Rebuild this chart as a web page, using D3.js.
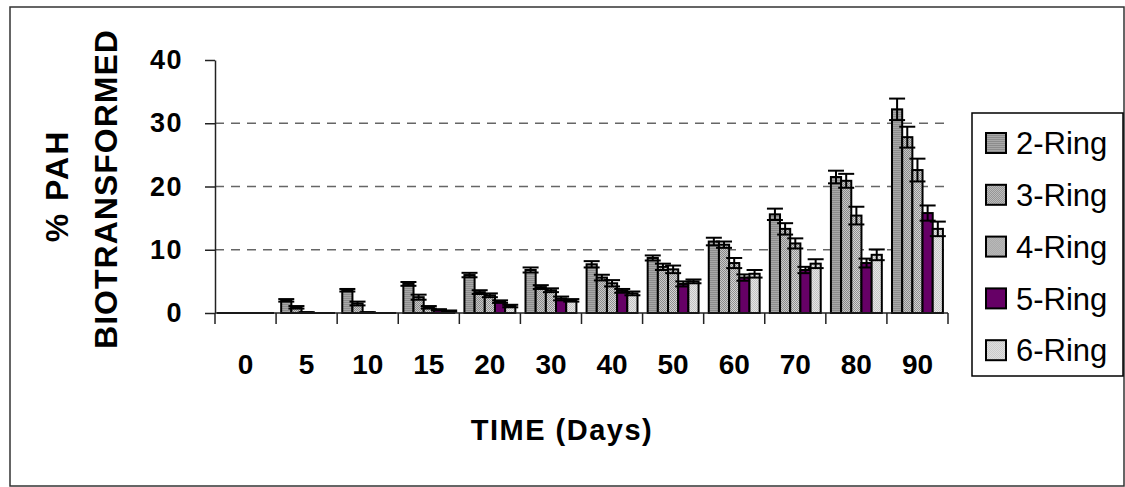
<!DOCTYPE html>
<html>
<head>
<meta charset="utf-8">
<script src="https://cdn.jsdelivr.net/npm/d3@7"></script>
<style>
  body { margin: 0; background: #fff; }
  text { font-family: "Liberation Sans", Arial, sans-serif; }
</style>
</head>
<body>
<svg id="chart"></svg>
<script>
const days = ['0', '5', '10', '15', '20', '30', '40', '50', '60', '70', '80', '90'];
const rings = ['2-Ring', '3-Ring', '4-Ring', '5-Ring', '6-Ring'];

// % PAH biotransformed, per ring class
const ring2 = [0, 2.0, 3.6, 4.6, 6.0, 6.8, 7.7, 8.7, 11.3, 15.6, 21.5, 32.2];
const ring3 = [0, 0.9, 1.5, 2.5, 3.3, 4.1, 5.6, 7.3, 10.8, 13.3, 20.9, 27.8];
const ring4 = [0, 0.1, 0.1, 0.9, 2.8, 3.6, 4.7, 6.9, 7.9, 11.0, 15.4, 22.6];
const ring5 = [0, 0, 0, 0.5, 1.8, 2.3, 3.5, 4.6, 5.6, 6.8, 7.9, 15.8];
const ring6 = [0, 0, 0, 0.3, 1.1, 2.0, 3.1, 5.0, 6.2, 7.8, 9.2, 13.3];

// error bar half-widths
const err2 = [0, 0.2, 0.2, 0.3, 0.35, 0.4, 0.5, 0.4, 0.6, 0.9, 1.0, 1.7];
const err3 = [0, 0.2, 0.3, 0.4, 0.3, 0.3, 0.45, 0.5, 0.5, 0.9, 1.1, 1.65];
const err4 = [0, 0, 0, 0.2, 0.3, 0.3, 0.5, 0.6, 0.8, 0.8, 1.4, 1.8];
const err5 = [0, 0, 0, 0.1, 0.2, 0.3, 0.3, 0.4, 0.5, 0.5, 0.7, 1.2];
const err6 = [0, 0, 0, 0.1, 0.2, 0.2, 0.3, 0.3, 0.6, 0.7, 0.85, 1.15];

const yTicks = [0, 10, 20, 30, 40];
const gridTicks = [10, 20, 30];

const values = [ring2, ring3, ring4, ring5, ring6];
const errors = [err2, err3, err4, err5, err6];

const width = 1125;
const height = 487;

const svg = d3.select('#chart')
  .attr('width', width)
  .attr('height', height);

// fill patterns, roughly like the old Excel textures
const defs = svg.append('defs');

const p2 = defs.append('pattern').attr('id', 'p0')
  .attr('patternUnits', 'userSpaceOnUse').attr('width', 2).attr('height', 2);
p2.append('rect').attr('width', 2).attr('height', 2).attr('fill', '#a8a8a8');
p2.append('rect').attr('width', 2).attr('height', 1).attr('fill', '#8c8c8c');

function checker(id, a, b) {
  const p = defs.append('pattern').attr('id', id)
    .attr('patternUnits', 'userSpaceOnUse').attr('width', 2).attr('height', 2);
  p.append('rect').attr('width', 2).attr('height', 2).attr('fill', a);
  p.append('rect').attr('width', 1).attr('height', 1).attr('fill', b);
  p.append('rect').attr('x', 1).attr('y', 1).attr('width', 1).attr('height', 1).attr('fill', b);
}
checker('p1', '#c8c8c8', '#8a8a8a');
checker('p2', '#d4d4d4', '#8f8f8f');
checker('p4', '#e6e6e6', '#c4c4c4');

const fills = ['url(#p0)', 'url(#p1)', 'url(#p2)', '#660066', 'url(#p4)'];

// outer frame
svg.append('rect')
  .attr('x', 10).attr('y', 7)
  .attr('width', 1114).attr('height', 479)
  .attr('fill', 'none')
  .attr('stroke', '#333')
  .attr('stroke-width', 1.5);

const x = d3.scaleBand()
  .domain(days)
  .range([215, 948]);
const xInner = d3.scaleBand()
  .domain(rings)
  .range([x.bandwidth() / 12, x.bandwidth() * 11 / 12]);
const y = d3.scaleLinear()
  .domain([0, 40])
  .range([313, 60]);

const g = svg.append('g');

// dashed gridlines
g.selectAll('.grid')
  .data(gridTicks)
  .enter().append('line')
    .attr('x1', 215).attr('x2', 948)
    .attr('y1', d => y(d)).attr('y2', d => y(d))
    .attr('stroke', '#666')
    .attr('stroke-width', 1.5)
    .attr('stroke-dasharray', '9,7');

// Y axis
const yAxis = d3.axisLeft(y)
  .tickValues(yTicks)
  .tickSize(10)
  .tickPadding(22)
  .tickSizeOuter(0);

g.append('g')
  .attr('transform', 'translate(215,0)')
  .call(yAxis)
  .call(a => a.selectAll('line, path').attr('stroke', '#222').attr('stroke-width', 1.5))
  .call(a => a.selectAll('text')
    .attr('font-size', 27).attr('font-weight', 'bold').attr('fill', '#000')
    .attr('letter-spacing', 1.5)
    .style('font-family', '"Liberation Sans", Arial, sans-serif'));

// X axis labels
const xAxis = d3.axisBottom(x)
  .tickSize(0)
  .tickPadding(41)
  .tickSizeOuter(0);

g.append('g')
  .attr('transform', 'translate(0,313)')
  .call(xAxis)
  .call(a => a.select('.domain').remove())
  .call(a => a.selectAll('text')
    .attr('font-size', 28).attr('font-weight', 'bold').attr('fill', '#000')
    .style('font-family', '"Liberation Sans", Arial, sans-serif'));

// bars
const series = g.selectAll('.series')
  .data(rings)
  .enter().append('g')
    .attr('class', 'series');

series.selectAll('rect')
  .data((r, i) => days.map((d, j) => ({ day: d, ring: r, ri: i, v: values[i][j], e: errors[i][j] })))
  .enter().append('rect')
    .attr('x', d => x(d.day) + xInner(d.ring))
    .attr('y', d => y(d.v))
    .attr('width', xInner.bandwidth())
    .attr('height', d => y(0) - y(d.v))
    .attr('fill', d => fills[d.ri])
    .attr('stroke', '#000')
    .attr('stroke-width', 2);

// error bars
const eb = series.selectAll('.err')
  .data((r, i) => days.map((d, j) => ({ day: d, ring: r, v: values[i][j], e: errors[i][j] })))
  .enter().append('g')
    .attr('class', 'err')
    .attr('transform', d => `translate(${x(d.day) + xInner(d.ring) + xInner.bandwidth() / 2},0)`);

eb.append('line')
  .attr('y1', d => y(d.v + d.e)).attr('y2', d => y(Math.max(0, d.v - d.e)))
  .attr('stroke', '#000').attr('stroke-width', 2);
eb.append('line')
  .attr('x1', -8).attr('x2', 8)
  .attr('y1', d => y(d.v + d.e)).attr('y2', d => y(d.v + d.e))
  .attr('stroke', '#000').attr('stroke-width', 2);
eb.append('line')
  .attr('x1', -8).attr('x2', 8)
  .attr('y1', d => y(Math.max(0, d.v - d.e))).attr('y2', d => y(Math.max(0, d.v - d.e)))
  .attr('stroke', '#000').attr('stroke-width', 2);

// X axis line and category boundary ticks
g.append('line')
  .attr('x1', 215).attr('x2', 948)
  .attr('y1', y(0)).attr('y2', y(0))
  .attr('stroke', '#222').attr('stroke-width', 1.5);

g.selectAll('.xtick')
  .data(days.concat(['end']))
  .enter().append('line')
    .attr('x1', d => d === 'end' ? x.range()[1] : x(d))
    .attr('x2', d => d === 'end' ? x.range()[1] : x(d))
    .attr('y1', y(0)).attr('y2', y(0) + 11)
    .attr('stroke', '#222').attr('stroke-width', 1.5);

// axis titles
svg.append('text')
  .attr('transform', 'translate(68,186) rotate(-90)')
  .attr('text-anchor', 'middle')
  .attr('font-size', 32).attr('font-weight', 'bold')
  .attr('letter-spacing', 2)
  .text('% PAH');
svg.append('text')
  .attr('transform', 'translate(117,189) rotate(-90)')
  .attr('text-anchor', 'middle')
  .attr('font-size', 32).attr('font-weight', 'bold')
  .attr('letter-spacing', 1)
  .text('BIOTRANSFORMED');
svg.append('text')
  .attr('x', 562).attr('y', 440)
  .attr('text-anchor', 'middle')
  .attr('font-size', 29).attr('font-weight', 'bold')
  .attr('letter-spacing', 1.5)
  .text('TIME (Days)');

// legend
const legend = svg.append('g');
legend.append('rect')
  .attr('x', 972).attr('y', 113)
  .attr('width', 151).attr('height', 263)
  .attr('fill', '#fff')
  .attr('stroke', '#000')
  .attr('stroke-width', 1.5);

const item = legend.selectAll('.item')
  .data(rings)
  .enter().append('g')
    .attr('transform', (d, i) => `translate(0,${143 + i * 51.8})`);

item.append('rect')
  .attr('x', 986).attr('y', -10)
  .attr('width', 20).attr('height', 20)
  .attr('fill', (d, i) => fills[i])
  .attr('stroke', '#000')
  .attr('stroke-width', 2);
item.append('text')
  .attr('x', 1016)
  .attr('y', 0)
  .attr('dy', '0.36em')
  .attr('font-size', 31)
  .text(d => d);
</script>
</body>
</html>
